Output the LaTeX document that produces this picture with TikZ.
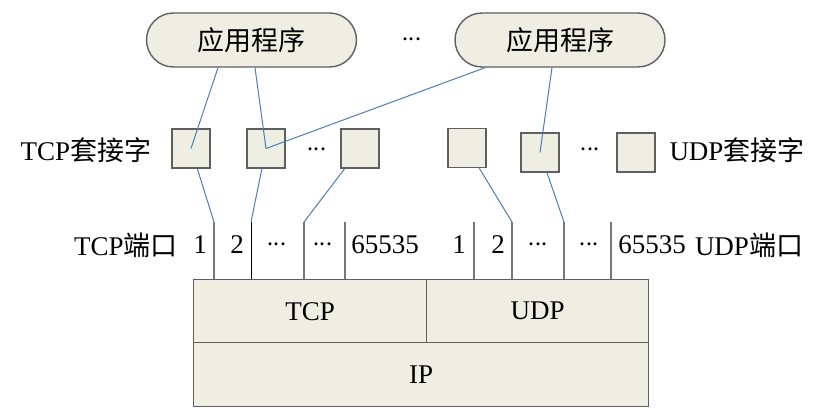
\documentclass[tikz,border=0pt]{standalone}
\usepackage{fontspec}
\setmainfont{Liberation Serif}
\newfontfamily\cjk{Noto Sans CJK SC}
\usetikzlibrary{shapes.misc}
\definecolor{boxfill}{RGB}{238,238,226}
\definecolor{linkblue}{RGB}{74,126,187}
\definecolor{edgegray}{RGB}{95,95,95}
\definecolor{portgray}{RGB}{120,120,120}
\newcommand{\mydots}{${\cdot}\mkern-1mu{\cdot}\mkern-1mu{\cdot}$}
\begin{document}
\begin{tikzpicture}[x=0.5pt,y=-0.5pt,
  every node/.style={font=\fontsize{13.5}{16}\selectfont, inner sep=0pt},
  app/.style={rounded rectangle, draw=edgegray, line width=0.7pt, fill=boxfill,
    minimum width=105pt, minimum height=27pt},
  sock/.style={draw=edgegray, line width=0.8pt, fill=boxfill,
    minimum width=19pt, minimum height=19.5pt},
  layer/.style={draw=edgegray, line width=0.7pt, fill=boxfill, anchor=north west},
  link/.style={draw=linkblue, line width=0.5pt},
  port/.style={draw=portgray, line width=0.7pt},
  lbl/.style={}]
\useasboundingbox (0,0) rectangle (824,411);

% applications
\node[app] (app1) at (251.5,40) {\cjk 应用程序};
\node[app] (app2) at (560,40) {\cjk 应用程序};
\node[lbl] (appdots) at (412,40) {\mydots};

% sockets
\node[sock] (s1) at (191,148.5) {};
\node[sock] (s2) at (266,148.5) {};
\node[lbl] (sdots1) at (317,150) {\mydots};
\node[sock] (s3) at (360,148.5) {};
\node[sock] (s4) at (467,148) {};
\node[sock] (s5) at (540,152.5) {};
\node[lbl] (sdots2) at (590,150) {\mydots};
\node[sock] (s6) at (636,152.5) {};
\node[lbl] (tcpsock) at (86,150) {TCP\cjk 套接字};
\node[lbl] (udpsock) at (737,150) {UDP\cjk 套接字};

% protocol layers
\node[layer, minimum width=116.5pt, minimum height=31.5pt] (tcp) at (193,279) {};
\node at (tcp.center) (tcpl) {TCP};
\node[layer, minimum width=111pt, minimum height=31.5pt] (udp) at (426,279) {};
\node at (udp.center) (udpl) {UDP};
\node[layer, minimum width=227.5pt, minimum height=32pt] (ip) at (193,342) {};
\node at (ip.center) (ipl) {IP};

% port tops
\coordinate (t1) at (214,222);
\coordinate (t2) at (251,222);
\coordinate (t3) at (304,222);
\coordinate (t4) at (345,222);
\coordinate (u1) at (474,222);
\coordinate (u2) at (512,222);
\coordinate (u3) at (564,222);
\coordinate (u4) at (611,222);

\draw[port] (t1) -- (t1 |- tcp.north);
\draw[draw=black, line width=0.5pt] (t2) -- (t2 |- tcp.north);
\draw[port] (t3) -- (t3 |- tcp.north);
\draw[port] (t4) -- (t4 |- tcp.north);
\draw[port] (u1) -- (u1 |- udp.north);
\draw[port] (u2) -- (u2 |- udp.north);
\draw[port] (u3) -- (u3 |- udp.north);
\draw[port] (u4) -- (u4 |- udp.north);

% port labels
\node[lbl] (tcpport) at (126,245) {TCP\cjk 端口};
\node[lbl] (tp1) at (200,245) {1};
\node[lbl] (tp2) at (237,245) {2};
\node[lbl] (tp3) at (277,245) {\mydots};
\node[lbl] (tp4) at (323,245) {\mydots};
\node[lbl] (tp5) at (385,245) {65535};
\node[lbl] (up1) at (459,245) {1};
\node[lbl] (up2) at (498,245) {2};
\node[lbl] (up3) at (538,245) {\mydots};
\node[lbl] (up4) at (589,245) {\mydots};
\node[lbl] (up5) at (652,245) {65535};
\node[lbl] (udpport) at (749,245) {UDP\cjk 端口};

% links
\draw[link] ([xshift=-16.75pt]app1.south) -- (s1.center);
\draw[link] ([xshift=1.75pt]app1.south) -- (s2.center);
\draw[link] ([xshift=-37.5pt]app2.south) -- (s2.center);
\draw[link] ([xshift=-4pt]app2.south) -- (s5.center);
\draw[link] (s1) -- (t1);
\draw[link] (s2) -- (t2);
\draw[link] (s3) -- (t3);
\draw[link] (s4) -- (u2);
\draw[link] (s5) -- (u3);
\end{tikzpicture}
\end{document}
